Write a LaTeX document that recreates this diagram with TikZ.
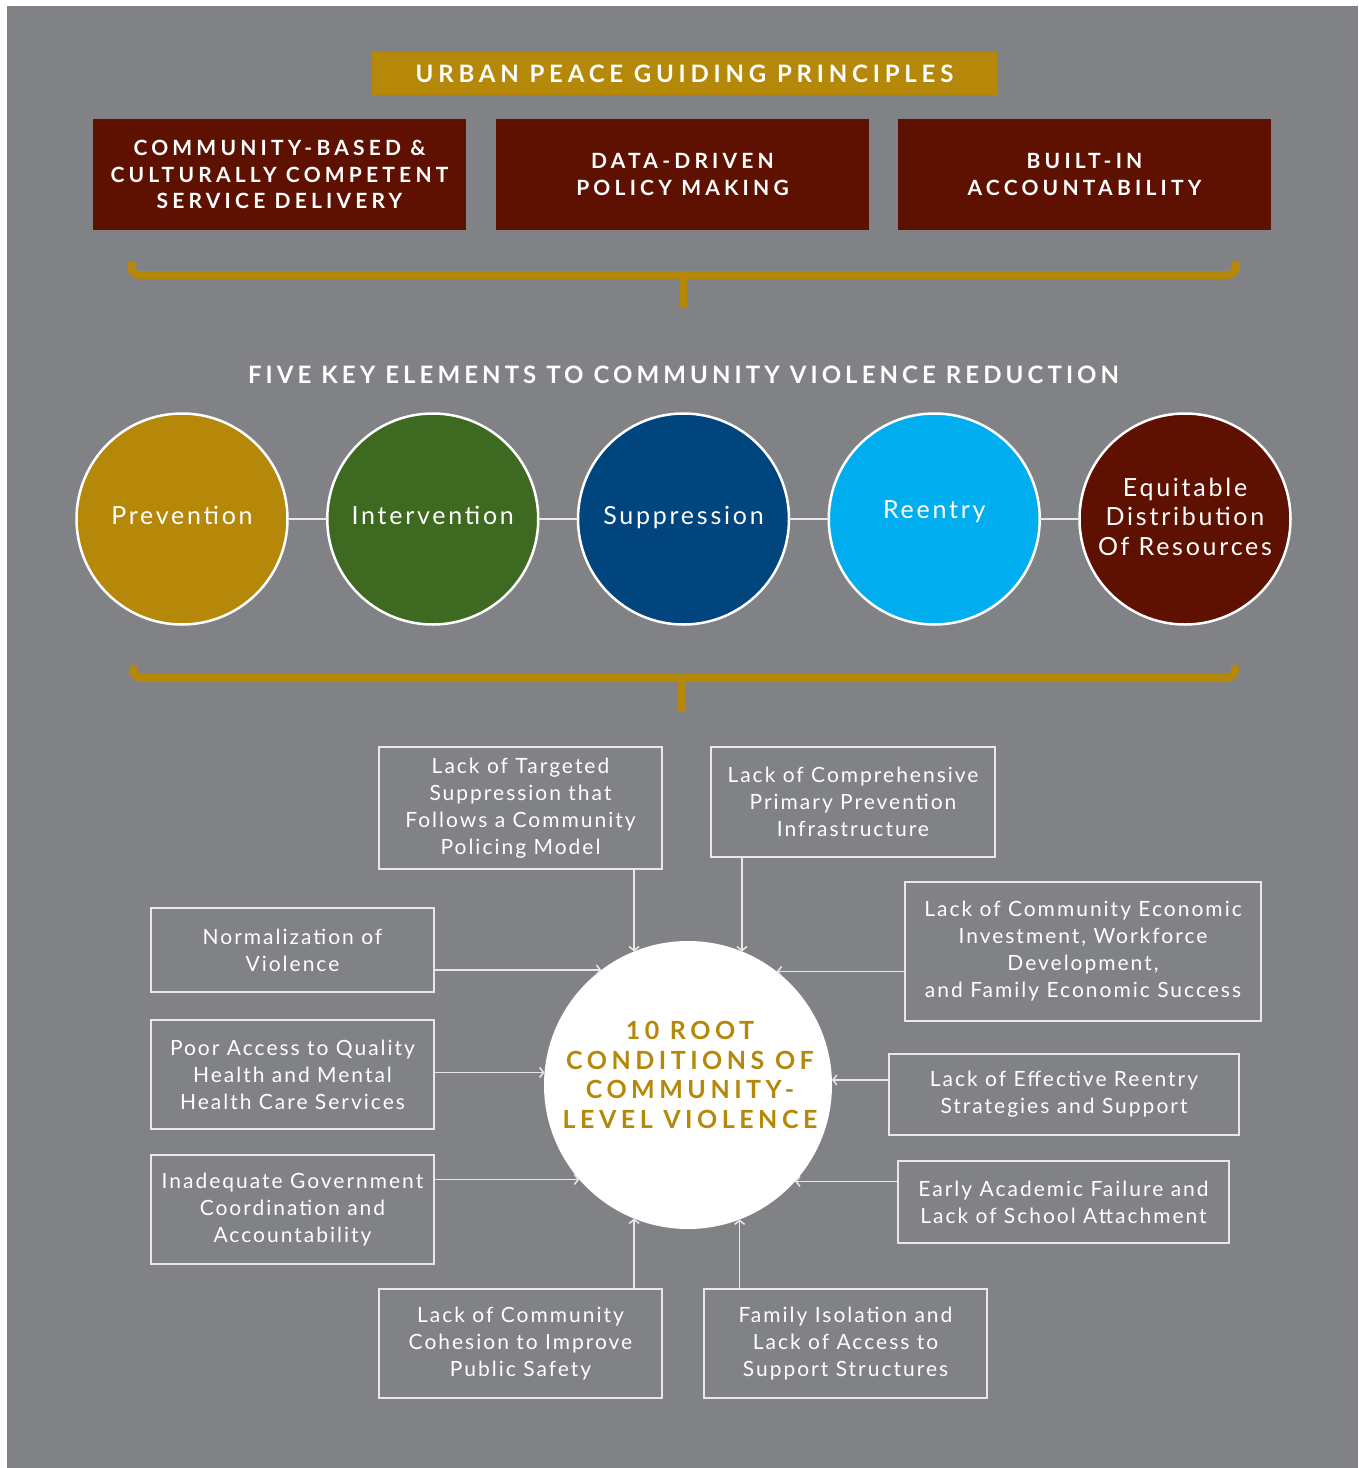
\documentclass[tikz,border=0pt]{standalone}
\usepackage{fontspec}
\setmainfont{Lato}
\newfontfamily\bodyfont[LetterSpace=9.5]{Lato}
\newfontfamily\circfont[LetterSpace=11]{Lato}
\newfontfamily\titlefont[LetterSpace=20]{Lato}
\newfontfamily\boxfont[LetterSpace=20]{Lato}
\newfontfamily\headfont[LetterSpace=17]{Lato}
\newfontfamily\centfont[LetterSpace=18]{Lato}
\usetikzlibrary{arrows.meta}
\definecolor{bg}{HTML}{818286}
\definecolor{gold}{HTML}{B5880A}
\definecolor{dred}{HTML}{5E1100}
\definecolor{dgreen}{HTML}{3D6A20}
\definecolor{dblue}{HTML}{00457D}
\definecolor{ecyan}{HTML}{00AEEF}
\definecolor{linec}{HTML}{E8E8E8}
\begin{document}
\begin{tikzpicture}[x=1pt,y=-1pt,
  every node/.style={inner sep=0pt, outer sep=0pt},
  gbox/.style={draw=linec, line width=1.5pt, text=white, align=center,
    font=\bodyfont\fontsize{21}{27}\selectfont},
  elem/.style={circle, draw=white, line width=2.5pt, minimum size=211pt, text=white, align=center,
    font=\circfont\fontsize{25}{29.5}\selectfont, text depth=7pt},
  pbox/.style={fill=dred, text=white, align=center, minimum width=373pt, minimum height=111pt,
    font=\boxfont\bfseries\fontsize{21}{26.5}\selectfont},
  arr/.style={draw=linec, line width=1.5pt, -{Straight Barb[length=4pt,width=10pt]}},
  conn/.style={draw=linec, line width=2pt},
  brace/.style={draw=gold, line width=8pt, rounded corners=9pt},
  stem/.style={draw=gold, line width=7pt},
]
% background
\fill[white] (0,0) rectangle (1359,1468);
\useasboundingbox (0,0) rectangle (1359,1468);
\fill[bg] (7,6) rectangle (1358,1468);

% title
\node[fill=gold, minimum width=625pt, minimum height=43pt, text=white,
  font=\titlefont\bfseries\fontsize{24}{27}\selectfont] (title) at (684.5,73.5) {URBAN PEACE GUIDING PRINCIPLES};

% principles
\node[pbox] (p1) at (279.5,174.5) {COMMUNITY-BASED \&\\CULTURALLY COMPETENT\\SERVICE DELIVERY};
\node[pbox] (p2) at (682.5,174.5) {DATA-DRIVEN\\POLICY MAKING};
\node[pbox] (p3) at (1084.5,174.5) {BUILT-IN\\ACCOUNTABILITY};

% bracket 1
\draw[brace] (131,262) -- (131,275) -- (1236,275) -- (1236,262);
\draw[stem] (683.5,275) -- (683.5,307);

% heading
\node[text=white, font=\headfont\bfseries\fontsize{24}{28}\selectfont] (head) at (683.5,375)
  {FIVE KEY ELEMENTS TO COMMUNITY VIOLENCE REDUCTION};

% elements
\node[elem, fill=gold] (e1) at (182,519) {Prevention};
\node[elem, fill=dgreen] (e2) at (432.75,519) {Intervention};
\node[elem, fill=dblue] (e3) at (683.5,519) {Suppression};
\node[elem, fill=ecyan, text depth=18pt] (e4) at (934.25,519) {Reentry};
\node[elem, fill=dred, text depth=5pt] (e5) at (1185,519) {Equitable\\Distribution\\Of Resources};
\draw[conn] (e1) -- (e2);
\draw[conn] (e2) -- (e3);
\draw[conn] (e3) -- (e4);
\draw[conn] (e4) -- (e5);

% bracket 2
\draw[brace] (133,665) -- (133,678) -- (1235,678) -- (1235,665);
\draw[stem] (681,678) -- (681,711);

% center circle
\node[circle, fill=white, minimum size=288pt] (c) at (688,1085) {};
\node[text=gold, align=center, font=\centfont\bfseries\fontsize{25}{29.7}\selectfont] (ctext) at (690,1075)
  {10 ROOT\\CONDITIONS OF\\COMMUNITY-\\LEVEL VIOLENCE};

% root condition boxes
\node[gbox, minimum width=283pt, minimum height=122pt] (n1) at (520.5,808)
  {Lack of Targeted\\Suppression that\\Follows a Community\\Policing Model};
\node[gbox, minimum width=284pt, minimum height=110pt] (n2) at (853,802)
  {Lack of Comprehensive\\Primary Prevention\\Infrastructure};
\node[gbox, minimum width=283pt, minimum height=84pt] (n3) at (292.5,950)
  {Normalization of\\Violence};
\node[gbox, minimum width=356pt, minimum height=139pt] (n4) at (1083,951.5)
  {Lack of Community Economic\\Investment, Workforce\\Development,\\and Family Economic Success};
\node[gbox, minimum width=283pt, minimum height=109pt] (n5) at (292.5,1074.5)
  {Poor Access to Quality\\Health and Mental\\Health Care Services};
\node[gbox, minimum width=350pt, minimum height=81pt] (n6) at (1064,1094.5)
  {Lack of Effective Reentry\\Strategies and Support};
\node[gbox, minimum width=283pt, minimum height=109pt] (n7) at (292.5,1209.5)
  {Inadequate Government\\Coordination and\\Accountability};
\node[gbox, minimum width=331pt, minimum height=82pt] (n8) at (1063.5,1202)
  {Early Academic Failure and\\Lack of School Attachment};
\node[gbox, minimum width=283pt, minimum height=109pt] (n9) at (520.5,1343.5)
  {Lack of Community\\Cohesion to Improve\\Public Safety};
\node[gbox, minimum width=283pt, minimum height=109pt] (n10) at (845.5,1343.5)
  {Family Isolation and\\Lack of Access to\\Support Structures};

% arrows
\draw[arr] (n1.south -| c.112) -- (c.112);
\draw[arr] (n2.south -| c.68.4) -- (c.68.4);
\draw[arr] (n3.east |- c.127.66) -- (c.127.66);
\draw[arr] (n4.west |- c.52.34) -- (c.52.34);
\draw[arr] (n5.east |- c.175.2) -- (c.175.2);
\draw[arr] (n6.west |- c.2) -- (c.2);
\draw[arr] (n7.east |- c.221.8) -- (c.221.8);
\draw[arr] (n8.west |- c.318.2) -- (c.318.2);
\draw[arr] (n9.north -| c.248) -- (c.248);
\draw[arr] (n10.north -| c.291.6) -- (c.291.6);
\end{tikzpicture}
\end{document}
